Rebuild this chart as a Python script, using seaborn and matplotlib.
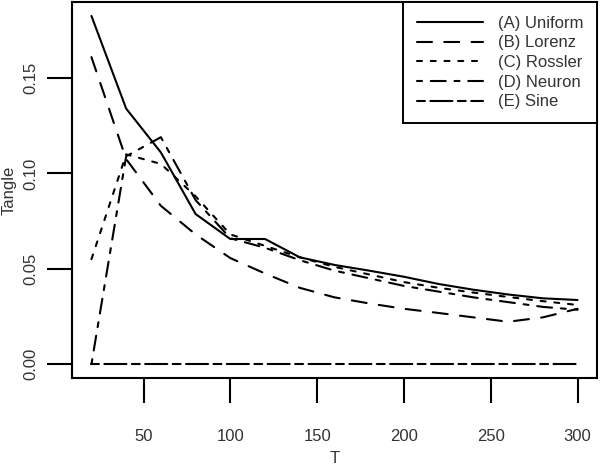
"""
Tangle vs T for five signal types - R base graphics look recreated with seaborn
"""

import numpy as np
import pandas as pd
import matplotlib
matplotlib.use("Agg")
import matplotlib.pyplot as plt
import seaborn as sns

sns.set_style("white")
plt.rcParams['font.family'] = ['Liberation Sans', 'DejaVu Sans']

# Data
T = [20, 40, 60, 80, 100, 120, 140, 160, 180, 200, 220, 240, 260, 280, 300]
uniform = [0.1826, 0.134, 0.111, 0.0787, 0.0656, 0.0656, 0.0560, 0.0520, 0.0490,
           0.0458, 0.0420, 0.0390, 0.0365, 0.0345, 0.0336]
lorenz = [0.161, 0.1075, 0.083, 0.068, 0.0556, 0.0475, 0.0400, 0.0350, 0.0318,
          0.0290, 0.0268, 0.0245, 0.0222, 0.0245, 0.0290]
rossler = [0.055, 0.110, 0.105, 0.088, 0.068, 0.062, 0.0560, 0.0510, 0.0470,
           0.0430, 0.0400, 0.0375, 0.0352, 0.0330, 0.0310]
neuron = [0.0, 0.109, 0.119, 0.086, 0.066, 0.061, 0.0545, 0.0490, 0.0450,
          0.0410, 0.0380, 0.0350, 0.0325, 0.0300, 0.0285]
sine = [0.0] * len(T)

labels = ['(A) Uniform', '(B) Lorenz', '(C) Rossler', '(D) Neuron', '(E) Sine']
series = [uniform, lorenz, rossler, neuron, sine]

# R style line types (lty 1..4, 6), in units of line width
lw = 1.5
dashes = {
    '(A) Uniform': '',
    '(B) Lorenz': (7.2, 5.9),
    '(C) Rossler': (2.4, 4.2),
    '(D) Neuron': (2.4, 4.2, 7.2, 4.2),
    '(E) Sine': (3.8, 2.6, 10.6, 2.6),
}

df = pd.concat([pd.DataFrame({'T': T, 'Tangle': vals, 'series': name})
                for name, vals in zip(labels, series)], ignore_index=True)

fig = plt.figure(figsize=(6, 4.68), dpi=100)
ax = fig.add_axes([0.12, 0.1923, 0.875, 0.8034])

sns.lineplot(data=df, x='T', y='Tangle', hue='series', style='series',
             palette={k: 'black' for k in labels}, dashes=dashes,
             linewidth=lw, ax=ax, legend=True)
for line in ax.get_lines():
    line.set_dash_capstyle('round')

# R default 4% padding
ax.set_xlim(20 - 0.04 * 280, 300 + 0.04 * 280)
ax.set_ylim(-0.04 * 0.1826, 0.1826 * 1.04)
ax.set_xticks([50, 100, 150, 200, 250, 300])
ax.set_yticks([0.00, 0.05, 0.10, 0.15])
ax.set_yticklabels(['0.00', '0.05', '0.10', '0.15'], rotation=90, va='center')

ax.tick_params(axis='both', direction='out', length=18, width=1.5,
               labelsize=12, colors='black', labelcolor='#333333')
ax.tick_params(axis='x', pad=19)
ax.tick_params(axis='y', pad=6)
ax.tick_params(left=True, bottom=True)
for sp in ax.spines.values():
    sp.set_linewidth(1.5)
    sp.set_color('black')

ax.set_xlabel('T', fontsize=12, color='#333333')
ax.set_ylabel('Tangle', fontsize=12, color='#333333')
ax.xaxis.set_label_coords(0.5, -0.194)
ax.yaxis.set_label_coords(-0.106, 0.5)

handles, lbls = ax.get_legend_handles_labels()
for h in handles:
    h.set_linewidth(lw)
leg = ax.legend(handles, lbls, loc='upper right', bbox_to_anchor=(1, 1),
                borderaxespad=0, fontsize=12, handlelength=3.95, handletextpad=0.9,
                labelspacing=0.28, borderpad=0.82, fancybox=False, framealpha=1,
                edgecolor='black')
leg.get_frame().set_linewidth(1.4)
for t in leg.get_texts():
    t.set_color('#333333')

fig.savefig('out.png', dpi=100)
